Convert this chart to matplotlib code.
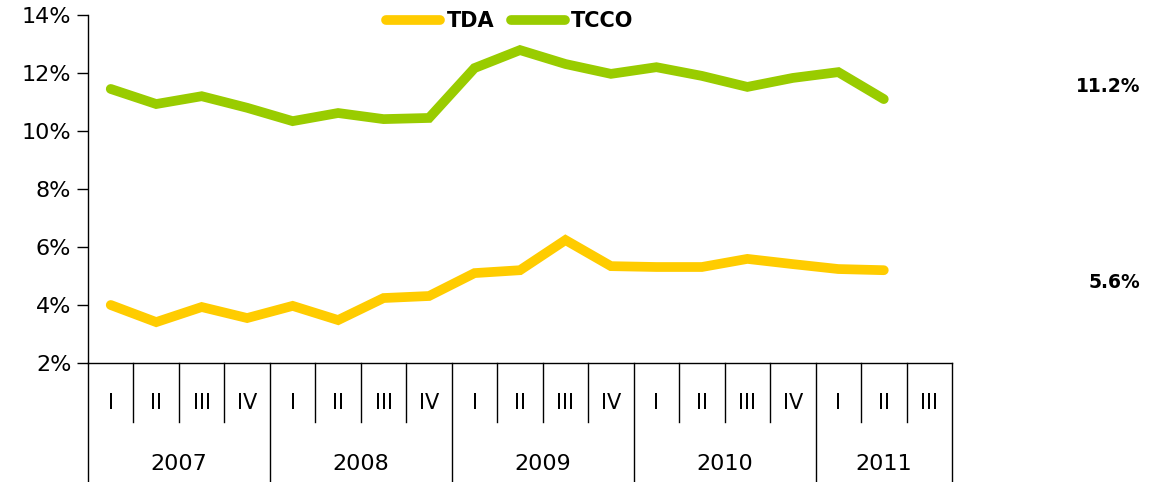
import matplotlib.pyplot as plt
import numpy as np

years = ["2007", "2008", "2009", "2010", "2011"]
quarters = ["I", "II", "III", "IV"]
quarters_per_year = [4, 4, 4, 4, 3]

tda = [4.0, 3.41, 3.93, 3.55, 3.97, 3.48, 4.24, 4.31,
       5.1, 5.2, 6.24, 5.34, 5.31, 5.31, 5.59, 5.41, 5.24, 5.2]
tcco = [11.45, 10.93, 11.2, 10.8, 10.34, 10.62, 10.41, 10.45,
        12.17, 12.79, 12.31, 11.97, 12.2, 11.9, 11.52, 11.83, 12.03, 11.1]

side_labels = ["11.2%", "5.6%"]

plt.rcParams['font.family'] = ['DejaVu Sans']

fig = plt.figure(figsize=(11.52, 4.82), dpi=100)
ax = fig.add_axes([88 / 1152, 1 - 363 / 482, (952 - 88) / 1152, (363 - 15) / 482])

n = sum(quarters_per_year)
x = np.arange(len(tda))
ax.plot(x, tda, color='#FFCC00', lw=7, solid_capstyle='round', solid_joinstyle='miter', label='TDA')
ax.plot(x, tcco, color='#99CC00', lw=7, solid_capstyle='round', solid_joinstyle='miter', label='TCCO')

ax.set_xlim(-0.5, n - 0.5)
ax.set_ylim(2, 14)
ax.set_yticks(range(2, 15, 2))
ax.set_yticklabels([f"{v}%" for v in range(2, 15, 2)], fontsize=16)
ax.tick_params(axis='y', length=8, width=1, pad=4)
ax.set_xticks([])
for s in ['top', 'right']:
    ax.spines[s].set_visible(False)
ax.spines['left'].set_linewidth(1)
ax.spines['bottom'].set_linewidth(1)

# category axis: quarters and years
trans = ax.get_xaxis_transform()
q_bottom = -(422 - 363) / 348
y_bottom = -(482 - 363) / 348
pos = 0
for yr, nq in zip(years, quarters_per_year):
    ax.plot([pos - 0.5, pos - 0.5], [0, y_bottom], color='black', lw=1, transform=trans, clip_on=False)
    for qi in range(nq):
        if qi > 0:
            ax.plot([pos + qi - 0.5, pos + qi - 0.5], [0, q_bottom], color='black', lw=1,
                    transform=trans, clip_on=False)
        ax.text(pos + qi, -(403 - 363) / 348, quarters[qi], ha='center', va='center',
                fontsize=15, transform=trans)
    ax.text(pos + (nq - 1) / 2, -(464 - 363) / 348, yr, ha='center', va='center',
            fontsize=16, transform=trans)
    pos += nq
ax.plot([n - 0.5, n - 0.5], [0, y_bottom], color='black', lw=1, transform=trans, clip_on=False)

ax.legend(loc='center', bbox_to_anchor=(510 / 1152, 1 - 21 / 482), bbox_transform=fig.transFigure,
          ncol=2, frameon=False, handlelength=2.6, handletextpad=0.3, columnspacing=0.8,
          prop={'weight': 'bold', 'size': 15})

for lab, ypix in zip(side_labels, [86, 282]):
    fig.text(1140 / 1152, 1 - ypix / 482, lab, ha='right', va='center',
             fontsize=13.5, fontweight='bold')

fig.savefig('out.png', dpi=100)
